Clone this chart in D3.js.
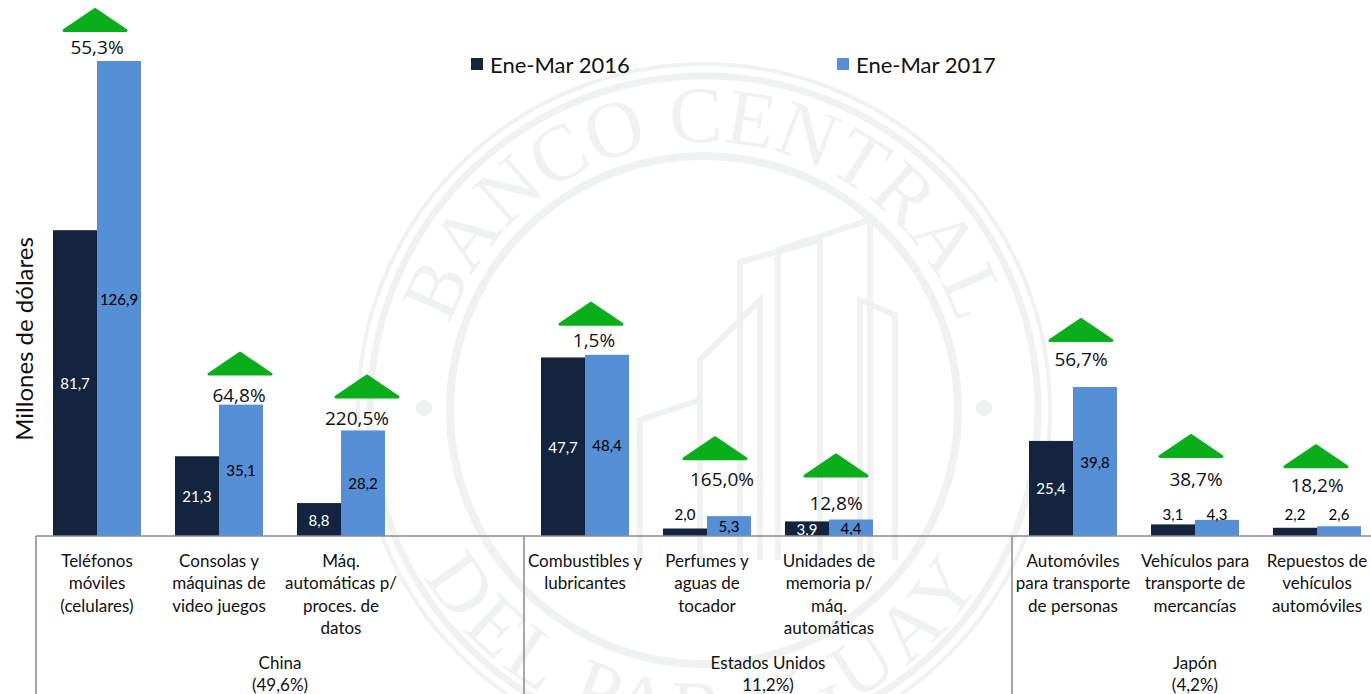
<!DOCTYPE html>
<html><head><meta charset="utf-8">
<script src="https://cdn.jsdelivr.net/npm/d3@7"></script>
<style>body{margin:0;background:#fff}svg{display:block}</style>
</head><body>
<svg id="chart" width="1371" height="694"></svg>
<script>
// ---- data ----
const categoryLines = [
  ["Teléfonos","móviles","(celulares)"],
  ["Consolas y","máquinas de","video juegos"],
  ["Máq.","automáticas p/","proces. de","datos"],
  ["Combustibles y","lubricantes"],
  ["Perfumes y","aguas de","tocador"],
  ["Unidades de","memoria p/","máq.","automáticas"],
  ["Automóviles","para transporte","de personas"],
  ["Vehículos para","transporte de","mercancías"],
  ["Repuestos de","vehículos","automóviles"]
];
const categoryGroup = [0,0,0,1,1,1,2,2,2];
const groupNames = ["China","Estados Unidos","Japón"];
const groupShares = ["(49,6%)","11,2%)","(4,2%)"];
const seriesNames = ["Ene-Mar 2016","Ene-Mar 2017"];
const values2016 = [81.7,21.3,8.8,47.7,2.0,3.9,25.4,3.1,2.2];
const values2017 = [126.9,35.1,28.2,48.4,5.3,4.4,39.8,4.3,2.6];
const growth = [55.3,64.8,220.5,1.5,165.0,12.8,56.7,38.7,18.2];

// ---- layout (annotation placement, not data) ----
const labelMode2016 = ["mid","mid","mid","mid","above","mid","mid","above","above"];
const labelMode2017 = ["mid","mid","mid","mid","mid","mid","mid","above","above"];
const pctDx = [0,20,16,9,15,7,8,1,0];
const pctDy = [14,10,12,15,37,17,28,41,41];
const arrowDx = [-2,21,26,6,8,7,8,-4,-1];
const arrowGap = [15,19,20,14,19,25,17,21,17];

const colors = ["#14243e","#568fd6"];
const green = "#0aae1a";
const wm = "#f0f2f2";

const W = 1371, H = 694;
const svg = d3.select("#chart");

// slots: categories with a blank slot after each group except the last
const slotKeys = [];
categoryLines.forEach((c,i) => {
  if (i > 0 && categoryGroup[i] !== categoryGroup[i-1]) slotKeys.push("gap" + i);
  slotKeys.push("c" + i);
});
const x0 = d3.scaleBand().domain(slotKeys).range([36, 36 + 122 * slotKeys.length]).padding(0);
const x1 = d3.scaleBand().domain(seriesNames).range([17, 105]).padding(0);
const y = d3.scaleLinear().domain([0, d3.max(values2017)]).range([536, 61]);
const baseY = y(0);

// ---- watermark ----
const cx = 704, cy = 410;
const wmG = svg.append("g");
wmG.append("circle").attr("cx",cx).attr("cy",cy).attr("r",346).attr("fill","none").attr("stroke",wm).attr("stroke-width",4);
wmG.append("circle").attr("cx",cx).attr("cy",cy).attr("r",334).attr("fill","none").attr("stroke",wm).attr("stroke-width",7);
wmG.append("circle").attr("cx",cx).attr("cy",cy).attr("r",254).attr("fill","none").attr("stroke",wm).attr("stroke-width",8);
wmG.append("circle").attr("cx",cx-280).attr("cy",cy-2).attr("r",8).attr("fill",wm);
wmG.append("circle").attr("cx",cx+280).attr("cy",cy-2).attr("r",8).attr("fill",wm);
const rT = 268;
const defs = svg.append("defs");
defs.append("path").attr("id","arcTop")
  .attr("d",`M ${cx-rT},${cy} A ${rT},${rT} 0 0 1 ${cx+rT},${cy}`);
const rB = 326;
defs.append("path").attr("id","arcBot")
  .attr("d",`M ${cx-rB},${cy} A ${rB},${rB} 0 0 0 ${cx+rB},${cy}`);
wmG.append("text").attr("font-family","Liberation Serif, serif").attr("font-size",80).attr("fill",wm)
  .append("textPath").attr("href","#arcTop").attr("startOffset","50%").attr("text-anchor","middle")
  .text("BANCO CENTRAL");
wmG.append("text").attr("font-family","Liberation Serif, serif").attr("font-size",80).attr("fill",wm)
  .append("textPath").attr("href","#arcBot").attr("startOffset","50%").attr("text-anchor","middle")
  .attr("letter-spacing",6).text("DEL PARAGUAY");
// building sketch
const bld = [
  [[640,560],[640,420],[700,400],[700,560]],
  [[700,560],[700,360],[760,300],[760,560]],
  [[740,560],[740,262],[820,240],[820,560]],
  [[778,560],[778,250],[870,220],[870,560]],
  [[860,560],[860,300],[895,315],[895,560]]
];
bld.forEach(p => wmG.append("path").attr("d", d3.line()(p)).attr("fill","none").attr("stroke",wm).attr("stroke-width",6));

// ---- bars ----
const rows = categoryLines.map((c,i) => ({i, key:"c"+i, v:[values2016[i], values2017[i]]}));
const gCat = svg.append("g").selectAll("g").data(rows).join("g")
  .attr("transform", d => `translate(${x0(d.key)},0)`);
gCat.selectAll("rect").data(d => d.v.map((v,s) => ({v,s}))).join("rect")
  .attr("x", d => x1(seriesNames[d.s]))
  .attr("width", x1.bandwidth())
  .attr("y", d => y(d.v))
  .attr("height", d => baseY - y(d.v))
  .attr("fill", d => colors[d.s]);

// value labels
const fmt = v => d3.format(".1f")(v).replace(".", ",");
gCat.selectAll("text.val").data(d => d.v.map((v,s) => ({v,s,i:d.i}))).join("text")
  .attr("class","val")
  .attr("x", d => x1(seriesNames[d.s]) + x1.bandwidth()/2)
  .attr("y", d => {
    const mode = d.s === 0 ? labelMode2016[d.i] : labelMode2017[d.i];
    return mode === "mid" ? (y(d.v) + baseY)/2 : baseY - 22;
  })
  .attr("text-anchor","middle").attr("dominant-baseline","central")
  .attr("font-family","Lato, sans-serif").attr("font-size",15)
  .attr("fill", d => {
    const mode = d.s === 0 ? labelMode2016[d.i] : labelMode2017[d.i];
    return (d.s === 0 && mode === "mid") ? "#ffffff" : "#000000";
  })
  .text(d => fmt(d.v));

// growth arrows and labels
gCat.each(function(d){
  const g = d3.select(this);
  const cxs = x0.bandwidth()/2;
  const top = y(d3.max(d.v));
  const ty = top - pctDy[d.i];
  const ax = cxs + arrowDx[d.i];
  const ab = ty - arrowGap[d.i];
  g.append("path")
    .attr("d", `M ${ax-31},${ab-1.5} L ${ax},${ab-22.5} L ${ax+31},${ab-1.5} Z`)
    .attr("fill", green).attr("stroke", green).attr("stroke-width",3).attr("stroke-linejoin","round");
  g.append("text")
    .attr("x", cxs + pctDx[d.i]).attr("y", ty)
    .attr("text-anchor","middle").attr("dominant-baseline","central")
    .attr("font-family","Open Sans, sans-serif").attr("font-size",19).attr("fill","#111")
    .text(fmt(growth[d.i]) + "%");
});

// ---- axis & group frame ----
const axisColor = "#8a8a8a";
svg.append("line").attr("x1", x0.range()[0]).attr("x2", W).attr("y1", baseY).attr("y2", baseY)
  .attr("stroke", axisColor).attr("stroke-width",1.5);
const groupBounds = groupNames.map((g,gi) => {
  const idx = categoryGroup.map((cg,i) => cg === gi ? i : -1).filter(i => i >= 0);
  const start = gi === 0 ? x0.range()[0] : x0("gap" + idx[0]) + x0.bandwidth();
  const nextIdx = idx[idx.length-1] + 1;
  const end = nextIdx < categoryLines.length ? x0("gap" + nextIdx) + x0.bandwidth() : x0.range()[1];
  return {start, end};
});
groupBounds.forEach(b => {
  svg.append("line").attr("x1", b.start).attr("x2", b.start).attr("y1", baseY).attr("y2", H)
    .attr("stroke", axisColor).attr("stroke-width",1.5);
});
// category labels
rows.forEach(d => {
  const t = svg.append("text").attr("text-anchor","middle")
    .attr("font-family","Lato, sans-serif").attr("font-size",17).attr("fill","#111");
  categoryLines[d.i].forEach((ln,k) => {
    t.append("tspan").attr("x", x0(d.key) + x0.bandwidth()/2).attr("y", 560 + k*22.5)
      .attr("dominant-baseline","central").text(ln);
  });
});
// group labels
groupBounds.forEach((b,gi) => {
  const t = svg.append("text").attr("text-anchor","middle")
    .attr("font-family","Lato, sans-serif").attr("font-size",17).attr("fill","#111");
  t.append("tspan").attr("x",(b.start+b.end)/2).attr("y",662).attr("dominant-baseline","central").text(groupNames[gi]);
  t.append("tspan").attr("x",(b.start+b.end)/2).attr("y",684).attr("dominant-baseline","central").text(groupShares[gi]);
});

// y-axis title
svg.append("text").attr("transform","translate(23,339) rotate(-90)")
  .attr("text-anchor","middle").attr("dominant-baseline","central")
  .attr("font-family","Lato, sans-serif").attr("font-size",24).attr("fill","#111")
  .text("Millones de dólares");

// legend
const legX = [471, 837];
seriesNames.forEach((s,i) => {
  svg.append("rect").attr("x",legX[i]).attr("y",58).attr("width",12).attr("height",12).attr("fill",colors[i]);
  svg.append("text").attr("x",legX[i]+19).attr("y",64).attr("dominant-baseline","central")
    .attr("font-family","Lato, sans-serif").attr("font-size",22).attr("fill","#111").text(s);
});
</script>
</body></html>
